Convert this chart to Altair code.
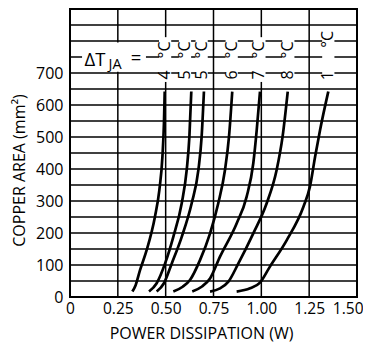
import altair as alt
import pandas as pd

FONT = "Open Sans"

# ---- curve data (power dissipation W, copper area mm^2) ----
series_names = ["40°C", "50°C", "55°C", "60°C", "70°C", "80°C", "100°C"]
c40_w = [0.326, 0.343, 0.366, 0.401, 0.444, 0.467, 0.483, 0.491, 0.495]
c40_a = [17, 37, 84, 147, 251, 334, 438, 543, 642]
c50_w = [0.413, 0.453, 0.497, 0.540, 0.584, 0.610, 0.624, 0.634]
c50_a = [17, 43, 105, 188, 293, 397, 501, 642]
c55_w = [0.453, 0.491, 0.532, 0.584, 0.636, 0.671, 0.688, 0.700]
c55_a = [17, 43, 105, 188, 293, 397, 501, 642]
c60_w = [0.540, 0.589, 0.627, 0.680, 0.732, 0.775, 0.810, 0.831, 0.848]
c60_a = [17, 32, 53, 116, 199, 293, 397, 501, 642]
c70_w = [0.639, 0.688, 0.732, 0.784, 0.871, 0.923, 0.958, 0.976, 0.993]
c70_a = [17, 32, 58, 126, 230, 313, 418, 522, 642]
c80_w = [0.732, 0.784, 0.828, 0.880, 0.958, 1.028, 1.080, 1.111, 1.138]
c80_a = [17, 27, 48, 105, 199, 293, 397, 501, 642]
c100_w = [0.871, 0.941, 0.993, 1.045, 1.133, 1.220, 1.254, 1.281, 1.307, 1.350]
c100_a = [17, 27, 45, 95, 178, 282, 345, 438, 522, 642]

# ---- axes / grid ----
x_ticks = [0, 0.25, 0.5, 0.75, 1.0, 1.25, 1.5]
y_ticks = [0, 100, 200, 300, 400, 500, 600, 700]
x_grid = [0.25, 0.5, 0.75, 1.0, 1.25]
y_grid = [50, 100, 150, 200, 250, 300, 350, 400, 450, 500, 550, 600, 650, 700, 750, 800, 850]

# ---- annotation labels ----
label_digits = ["4", "5", "5", "6", "7", "8", "1"]
label_x = [0.497, 0.601, 0.688, 0.845, 0.990, 1.141, 1.350]
label_digit_y = [694, 694, 694, 694, 694, 694, 692]
label_unit_y = [772, 772, 772, 772, 772, 772, 805]
label_box_top = [812, 812, 812, 812, 812, 812, 838]
dt_text = ["ΔT", "JA", "="]
dt_x = [0.131, 0.236, 0.345]
dt_y = [741, 725, 748]
dt_size = [18.5, 14.5, 18.5]

rows = []
for name, ws, As in zip(series_names,
                        [c40_w, c50_w, c55_w, c60_w, c70_w, c80_w, c100_w],
                        [c40_a, c50_a, c55_a, c60_a, c70_a, c80_a, c100_a]):
    for i, (w, a) in enumerate(zip(ws, As)):
        rows.append({"series": name, "w": w, "a": a, "i": i})
curves = pd.DataFrame(rows)

xs = alt.Scale(domain=[0, 1.5], nice=False, zero=False)
ys = alt.Scale(domain=[0, 900], nice=False, zero=False)

x_axis = alt.Axis(values=x_ticks, grid=False, ticks=False, domain=False, labelFlush=False,
                  labelExpr="datum.value == 0 ? '0' : format(datum.value, '.2f')",
                  labelAlign={"condition": {"test": "datum.value >= 1.5", "value": "right"},
                              "value": "center"},
                  labelOffset={"condition": {"test": "datum.value >= 1.5", "value": 6},
                               "value": 0},
                  labelFont=FONT, labelFontSize=15.5, labelColor="black", labelPadding=4,
                  title="POWER DISSIPATION (W)", titleFont=FONT, titleFontSize=16,
                  titleFontWeight="normal", titleColor="black",
                  titleX=131, titleY=36, titleBaseline="middle")
y_axis = alt.Axis(values=y_ticks, grid=False, ticks=False, domain=False, labelFlush=False,
                  format="d",
                  labelFont=FONT, labelFontSize=16, labelColor="black", labelPadding=7,
                  title="COPPER AREA (mm²)", titleFont=FONT, titleFontSize=16,
                  titleFontWeight="normal", titleColor="black",
                  titleX=-51, titleY=161, titleAngle=270, titleBaseline="middle")

hgrid = alt.Chart(pd.DataFrame({"y": y_grid})).mark_rule(color="black", strokeWidth=1.3).encode(
    y=alt.Y("y:Q", scale=ys, axis=y_axis))
vgrid = alt.Chart(pd.DataFrame({"x": x_grid})).mark_rule(color="black", strokeWidth=1.5).encode(
    x=alt.X("x:Q", scale=xs, axis=x_axis))

half_w = 0.032
box_df = pd.DataFrame({
    "x1": [x - half_w for x in label_x],
    "x2": [x + half_w for x in label_x],
    "y1": [y - 22 for y in label_digit_y],
    "y2": label_box_top,
})
dt_box = pd.DataFrame({"x1": [dt_x[0] - 0.068], "x2": [dt_x[2] + 0.052],
                       "y1": [704], "y2": [795]})
boxes = alt.Chart(pd.concat([box_df, dt_box])).mark_rect(color="white").encode(
    x=alt.X("x1:Q", scale=xs), x2="x2:Q",
    y=alt.Y("y1:Q", scale=ys), y2="y2:Q")

lines = alt.Chart(curves).mark_line(color="black", strokeWidth=2.7,
                                    interpolate="monotone").encode(
    x=alt.X("w:Q", scale=xs), y=alt.Y("a:Q", scale=ys),
    detail="series:N", order="i:Q")

digits = alt.Chart(pd.DataFrame({"x": label_x, "y": label_digit_y, "t": label_digits})).mark_text(
    angle=270, font=FONT, fontSize=16, color="black", align="center", baseline="middle").encode(
    x=alt.X("x:Q", scale=xs), y=alt.Y("y:Q", scale=ys), text="t:N")
units = alt.Chart(pd.DataFrame({"x": label_x, "y": label_unit_y})).mark_text(
    angle=270, font=FONT, fontSize=16, color="black", align="center", baseline="middle",
    text="°C").encode(
    x=alt.X("x:Q", scale=xs), y=alt.Y("y:Q", scale=ys))
dt = alt.Chart(pd.DataFrame({"x": dt_x, "y": dt_y, "t": dt_text, "s": dt_size})).mark_text(
    font=FONT, color="black", align="center", baseline="middle").encode(
    x=alt.X("x:Q", scale=xs), y=alt.Y("y:Q", scale=ys), text="t:N",
    size=alt.Size("s:Q", scale=None, legend=None))

chart = alt.layer(hgrid, vgrid, boxes, lines, digits, units, dt).properties(
    width=287, height=288,
    autosize="none",
    padding={"left": 62, "top": 1, "right": 6, "bottom": 48},
).configure_view(stroke="black", strokeWidth=2)

chart.save("out.html", embed_options={"renderer": "svg", "actions": False})
